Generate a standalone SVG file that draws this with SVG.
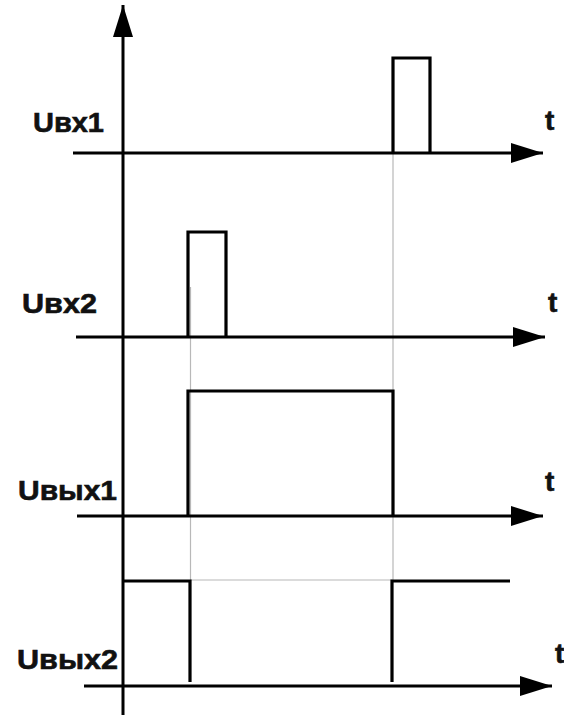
<svg xmlns="http://www.w3.org/2000/svg" width="564" height="715" viewBox="0 0 564 715">
  <style>
    .ax { stroke: #000; stroke-width: 3; fill: none; }
    .sig { stroke: #000; stroke-width: 3.2; fill: none; stroke-linejoin: miter; }
    .guide { stroke: #b8b8b8; stroke-width: 1.2; fill: none; }
    .lbl { font-family: "Liberation Sans", Arial, sans-serif; font-weight: bold; font-size: 27px; fill: #111; stroke: #111; stroke-width: 0.6; }
    .t { font-family: "Liberation Sans", Arial, sans-serif; font-weight: bold; font-size: 28px; fill: #111; stroke: #111; stroke-width: 0.6; }
  </style>
  <defs>
    <marker id="arr" viewBox="0 0 32 20" refX="32" refY="10" markerWidth="32" markerHeight="20" markerUnits="userSpaceOnUse" orient="auto">
      <path d="M0,0 L32,10 L0,20 Z" fill="#000"/>
    </marker>
  </defs>
  <rect width="564" height="715" fill="#fff"/>

  <!-- thin guide lines linking the switching moments -->
  <g id="guides">
    <line class="guide" x1="190.5" y1="287" x2="190.5" y2="581"/>
    <line class="guide" x1="393" y1="153" x2="393" y2="581"/>
    <line class="guide" x1="190.5" y1="580" x2="393" y2="580"/>
  </g>

  <!-- axes -->
  <g id="axes">
    <line class="ax" x1="123" y1="715" x2="123" y2="5" marker-end="url(#arr)"/>
    <line class="ax" x1="73" y1="153" x2="543" y2="153" marker-end="url(#arr)"/>
    <line class="ax" x1="76" y1="337" x2="545" y2="337" marker-end="url(#arr)"/>
    <line class="ax" x1="77" y1="516" x2="543" y2="516" marker-end="url(#arr)"/>
    <line class="ax" x1="84" y1="686" x2="552" y2="686" marker-end="url(#arr)"/>
  </g>

  <!-- input 1 pulse -->
  <g id="in1">
    <polyline class="sig" points="393,153 393,58 430,58 430,153"/>
    <text class="lbl" x="33" y="132" textLength="71" lengthAdjust="spacingAndGlyphs">Uвх1</text>
    <text class="t" x="545" y="130">t</text>
  </g>

  <!-- input 2 pulse -->
  <g id="in2">
    <polyline class="sig" points="188,337 188,232 226,232 226,337"/>
    <text class="lbl" x="22" y="313" textLength="75" lengthAdjust="spacingAndGlyphs">Uвх2</text>
    <text class="t" x="548" y="312">t</text>
  </g>

  <!-- output 1 -->
  <g id="out1">
    <polyline class="sig" points="188,516 188,391 393,391 393,516"/>
    <text class="lbl" x="18" y="500" textLength="99" lengthAdjust="spacingAndGlyphs">Uвых1</text>
    <text class="t" x="545" y="491">t</text>
  </g>

  <!-- output 2 -->
  <g id="out2">
    <polyline class="sig" points="123,581 190,581 190,682"/>
    <polyline class="sig" points="392,682 392,581 510,581"/>
    <text class="lbl" x="17" y="669" textLength="101" lengthAdjust="spacingAndGlyphs">Uвых2</text>
    <text class="t" x="555" y="663">t</text>
  </g>
</svg>
